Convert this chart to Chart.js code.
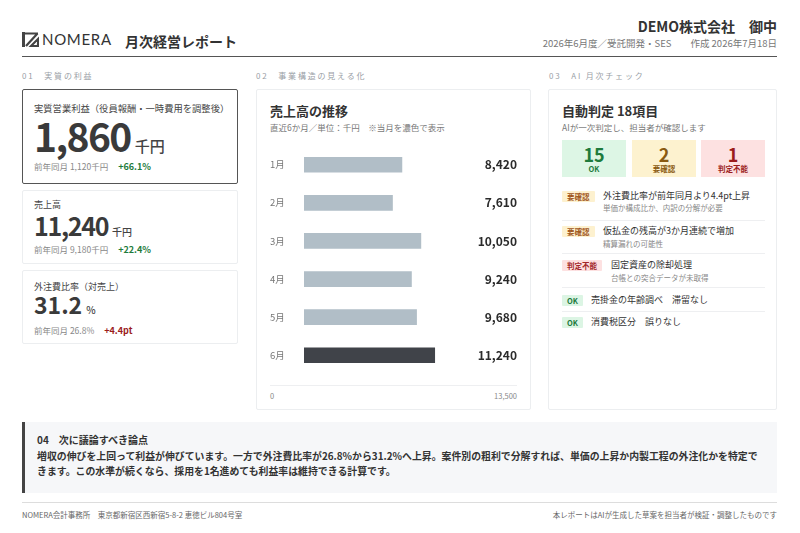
<!DOCTYPE html>
<html lang="ja">
<head>
<meta charset="utf-8">
<title>月次経営レポート</title>
<script src="https://cdn.jsdelivr.net/npm/chart.js@4/dist/chart.umd.min.js"></script>
<style>
  * { box-sizing: border-box; margin: 0; padding: 0; }
  body {
    width: 800px; height: 533px; background: #fff; position: relative; overflow: hidden;
    font-family: "Noto Sans CJK JP", "Noto Sans", sans-serif; color: #333;
  }
  .abs { position: absolute; white-space: nowrap; }
  .logo { left: 22px; top: 30px; display: flex; align-items: center; }
  .logo span { font-family: "Lato", "Noto Sans", sans-serif; font-size: 15px; color: #333; margin-left: 3px; letter-spacing: 0.7px; }
  .title { left: 125px; top: 31px; font-size: 14px; font-weight: 600; color: #333; }
  .client { right: 23px; top: 16px; font-size: 14px; font-weight: 700; color: #333; }
  .meta { right: 23px; top: 36px; font-size: 9.5px; color: #777; }
  .rule { left: 22px; top: 56px; width: 755px; height: 0; border-top: 1.5px solid #555; }
  .sec { top: 70px; font-size: 8px; color: #9aa0a6; letter-spacing: 1.8px; }
  .card { border: 1px solid #eceef0; border-radius: 2px; background: #fff; }
  .kcard { left: 22px; width: 216px; }
  .lab { left: 34px; font-size: 9px; line-height: 12px; color: #444; }
  .num { left: 34px; font-weight: 700; color: #3a3a3a; line-height: 1; }
  .num small { font-weight: 500; color: #444; margin-left: 4px; letter-spacing: 0; }
  .prev { left: 34px; font-size: 8.5px; line-height: 12px; color: #888; }
  .up { font-weight: 700; font-size: 9px; margin-left: 10px; }
  .g { color: #1e7b3c; }
  .r { color: #9b1c1c; }
  .mid { left: 256px; top: 89px; width: 275px; height: 321px; }
  .right { left: 548px; top: 89px; width: 229px; height: 321px; }
  .ctitle { font-size: 13px; font-weight: 700; color: #333; }
  .csub { font-size: 8.5px; color: #777; }
  .tally { top: 50px; width: 64px; height: 37px; text-align: center; }
  .tally b { display: block; font-size: 18px; line-height: 20px; margin-top: 4px; }
  .tally i { display: block; font-style: normal; font-size: 7.5px; line-height: 9px; font-weight: 700; }
  .badge { left: 13px; height: 11px; line-height: 11px; font-size: 7.5px; font-weight: 700; padding: 0 5px; border-radius: 1px; }
  .b-y { background: #fdf1cf; color: #a0561b; }
  .b-r { background: #fde1e1; color: #a3272a; }
  .b-g { background: #dcf5e4; color: #1e7b3c; }
  .it { font-size: 9px; line-height: 12px; color: #333; }
  .is { font-size: 7.5px; line-height: 10px; color: #888; }
  .sep { left: 13px; width: 203px; border-top: 1px solid #eeeff1; }
  .note { left: 22px; top: 422px; width: 755px; height: 71px; background: #f6f7f9; border-left: 3px solid #444; }
  .note h4 { position: absolute; left: 12px; top: 11px; font-size: 10px; line-height: 14px; font-weight: 700; color: #333; }
  .note p { position: absolute; left: 12px; top: 27px; width: 728px; white-space: normal; font-size: 9.9px; font-weight: 700; color: #333; line-height: 15px; }
  .frule { left: 22px; top: 502px; width: 755px; border-top: 1px solid #ddd; }
  .foot { top: 509px; font-size: 7.5px; color: #666; }
</style>
</head>
<body>

<div class="abs logo">
  <svg width="17" height="15" viewBox="0 0 17 15">
    <rect x="0" y="0" width="3" height="15" fill="#444"/>
    <path d="M3 1.5 H16 M15.5 1.5 L4 14 M9 14 L16 7 V14 Z" stroke="#444" stroke-width="2.2" fill="none"/>
  </svg>
  <span>NOMERA</span>
</div>
<div class="abs title">月次経営レポート</div>
<div class="abs client">DEMO株式会社　御中</div>
<div class="abs meta">2026年6月度／受託開発・SES　　作成 2026年7月18日</div>
<div class="abs rule"></div>

<div class="abs sec" style="left:22px">01　実質の利益</div>
<div class="abs sec" style="left:256px">02　事業構造の見える化</div>
<div class="abs sec" style="left:549px">03　AI 月次チェック</div>

<!-- 01 KPI cards -->
<div class="abs card kcard" style="top:89px;height:95px;border:1.5px solid #555;"></div>
<div class="abs lab" style="top:102px;font-size:9.3px">実質営業利益（役員報酬・一時費用を調整後）</div>
<div class="abs num" style="top:116px;font-size:39px;letter-spacing:-1.6px">1,860<small style="font-size:15px">千円</small></div>
<div class="abs prev" style="top:160px">前年同月 1,120千円<span class="up g">+66.1%</span></div>

<div class="abs card kcard" style="top:190px;height:74px;"></div>
<div class="abs lab" style="top:199px">売上高</div>
<div class="abs num" style="top:213px;font-size:25px;letter-spacing:-1.3px">11,240<small style="font-size:10px">千円</small></div>
<div class="abs prev" style="top:243px">前年同月 9,180千円<span class="up g">+22.4%</span></div>

<div class="abs card kcard" style="top:270px;height:74px;"></div>
<div class="abs lab" style="top:281px">外注費比率（対売上）</div>
<div class="abs num" style="top:293px;font-size:23px">31.2<small style="font-size:10px">%</small></div>
<div class="abs prev" style="top:324px">前年同月 26.8%<span class="up r">+4.4pt</span></div>

<!-- 02 chart card -->
<div class="abs card mid">
  <div class="abs ctitle" style="left:13px;top:11px">売上高の推移</div>
  <div class="abs csub" style="left:13px;top:31px">直近6か月／単位：千円　※当月を濃色で表示</div>
</div>
<div class="abs" style="left:270px;top:140px;width:247px;height:240px;">
  <canvas id="sales-chart"></canvas>
</div>
<div class="abs" style="left:270px;top:385px;width:247px;border-top:1px solid #eeeff1;"></div>
<div class="abs" id="axis-ticks" style="left:270px;top:390px;width:247px;height:12px;font-size:7.5px;color:#888;"></div>

<!-- 03 AI check card -->
<div class="abs card right">
  <div class="abs ctitle" style="left:13px;top:11px">自動判定 18項目</div>
  <div class="abs csub" style="left:13px;top:31px">AIが一次判定し、担当者が確認します</div>
  <div class="abs tally" style="left:13px;background:#ddf6e5;color:#1e7b3c"><b>15</b><i>OK</i></div>
  <div class="abs tally" style="left:83px;background:#fdf2cf;color:#8a5a10"><b>2</b><i>要確認</i></div>
  <div class="abs tally" style="left:152px;background:#fde1e1;color:#9b1c1c"><b>1</b><i>判定不能</i></div>

  <div class="abs badge b-y" style="top:101px">要確認</div>
  <div class="abs it" style="left:54px;top:100px">外注費比率が前年同月より4.4pt上昇</div>
  <div class="abs is" style="left:54px;top:113px">単価か構成比か、内訳の分解が必要</div>
  <div class="abs sep" style="top:130px"></div>

  <div class="abs badge b-y" style="top:136px">要確認</div>
  <div class="abs it" style="left:54px;top:135px">仮払金の残高が3か月連続で増加</div>
  <div class="abs is" style="left:54px;top:149px">精算漏れの可能性</div>
  <div class="abs sep" style="top:163px"></div>

  <div class="abs badge b-r" style="top:170px">判定不能</div>
  <div class="abs it" style="left:62px;top:169px">固定資産の除却処理</div>
  <div class="abs is" style="left:62px;top:183px">台帳との突合データが未取得</div>
  <div class="abs sep" style="top:197px"></div>

  <div class="abs badge b-g" style="top:205px">OK</div>
  <div class="abs it" style="left:42px;top:204px">売掛金の年齢調べ　滞留なし</div>
  <div class="abs sep" style="top:221px"></div>

  <div class="abs badge b-g" style="top:227px">OK</div>
  <div class="abs it" style="left:42px;top:226px">消費税区分　誤りなし</div>
</div>

<!-- 04 note -->
<div class="abs note">
  <h4>04　次に議論すべき論点</h4>
  <p>増収の伸びを上回って利益が伸びています。一方で外注費比率が26.8%から31.2%へ上昇。案件別の粗利で分解すれば、単価の上昇か内製工程の外注化かを特定できます。この水準が続くなら、採用を1名進めても利益率は維持できる計算です。</p>
</div>

<div class="abs frule"></div>
<div class="abs foot" style="left:22px">NOMERA会計事務所　東京都新宿区西新宿5-8-2 恵徳ビル804号室</div>
<div class="abs foot" style="right:23px">本レポートはAIが生成した草案を担当者が検証・調整したものです</div>

<script>
  // Sales data (千円)
  var months = ['1月', '2月', '3月', '4月', '5月', '6月'];
  var sales = [8420, 7610, 10050, 9240, 9680, 11240];
  var axisTicks = [0, 13500];
  var axisMax = 13500;

  var lightBar = '#b1bec7';
  var darkBar = '#404349';

  // bar colours: current month dark
  var barColors = sales.map(function(v, i) {
    return i === sales.length - 1 ? darkBar : lightBar;
  });

  // value labels at right edge of the canvas
  var valueLabels = {
    id: 'valueLabels',
    afterDatasetsDraw: function(chart) {
      var ctx = chart.ctx;
      var meta = chart.getDatasetMeta(0);
      ctx.save();
      ctx.font = '700 12px "Noto Sans CJK JP", "Noto Sans", sans-serif';
      ctx.fillStyle = '#2b2b2b';
      ctx.textAlign = 'right';
      ctx.textBaseline = 'middle';
      meta.data.forEach(function(bar, i) {
        ctx.fillText(sales[i].toLocaleString('en-US'), chart.width, bar.y);
      });
      ctx.restore();
    }
  };

  var salesCtx = document.getElementById('sales-chart');
  var salesChart = new Chart(salesCtx, {
    type: 'bar',
    data: {
      labels: months,
      datasets: [{
        label: '売上高',
        data: sales,
        backgroundColor: barColors,
        borderWidth: 0,
        barThickness: 15
      }]
    },
    options: {
      indexAxis: 'y',
      responsive: true,
      maintainAspectRatio: false,
      animation: false,
      layout: { padding: { left: 0, right: 56, top: 0, bottom: 0 } },
      plugins: { legend: { display: false }, tooltip: { enabled: false } },
      scales: {
        x: { min: 0, max: axisMax, display: false },
        y: {
          grid: { display: false },
          border: { display: false },
          ticks: {
            crossAlign: 'far',
            padding: 0,
            color: '#777',
            font: { size: 9.5, family: '"Noto Sans CJK JP", sans-serif' }
          },
          afterFit: function(scale) { scale.width = 34; }
        }
      }
    },
    plugins: [valueLabels]
  });

  // bottom scale labels (0 ... max)
  var tickBox = document.getElementById('axis-ticks');
  axisTicks.forEach(function(t, i) {
    var el = document.createElement('span');
    el.textContent = t.toLocaleString('en-US');
    el.style.position = 'absolute';
    el.style.top = '0';
    if (i === 0) el.style.left = '0'; else el.style.right = '0';
    tickBox.appendChild(el);
  });
</script>
</body>
</html>
